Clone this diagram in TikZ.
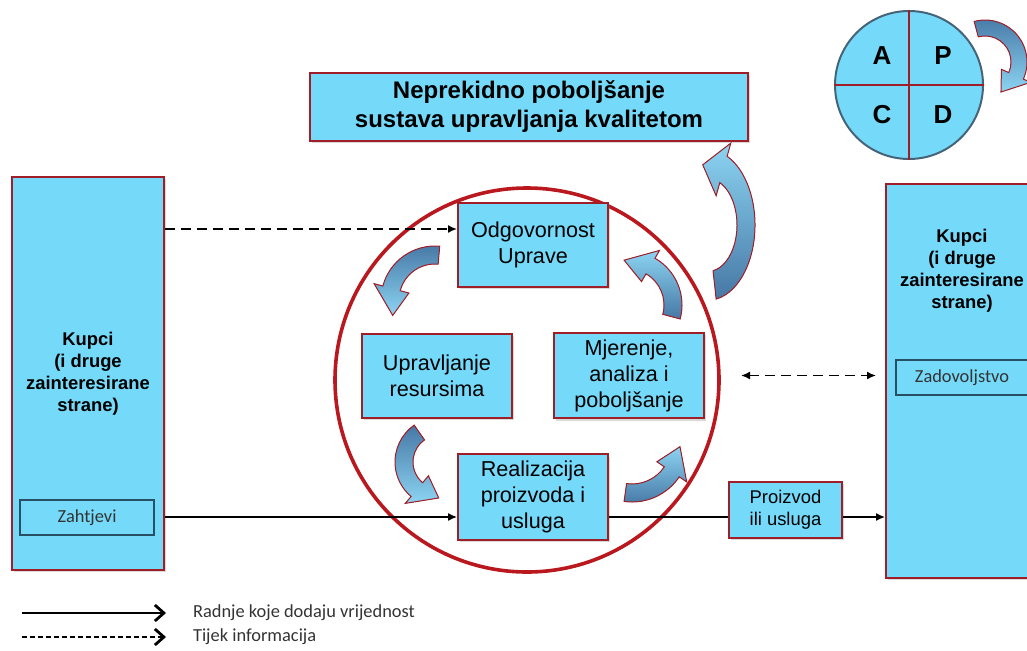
\documentclass[tikz,border=0pt]{standalone}
\usepackage{fontspec}
\setmainfont{Liberation Sans}
\newfontfamily\calibri{Carlito}
\usetikzlibrary{positioning,shadows,arrows.meta}

\definecolor{cijan}{RGB}{117,218,250}
\definecolor{tamnocrvena}{RGB}{160,30,40}
\definecolor{crvena}{RGB}{185,25,30}
\definecolor{tamnoplava}{RGB}{40,80,100}
\definecolor{sivoplava}{RGB}{70,100,120}
\definecolor{tamnavrtlog}{RGB}{70,120,165}
\definecolor{svijetlavrtlog}{RGB}{140,212,242}

% bent block arrow: [options]{centre}{radius}{start}{tip}{head angle}{half width}
\newcommand{\vrtlog}[7][]{%
  \begin{scope}[shift={#2}]
    \filldraw[vrtlog,#1] (#4:#3+#7) arc[start angle=#4, end angle=#5-(#6), radius=#3+#7]
      -- ({#5-(#6)}:#3+2*#7) -- (#5:#3) -- ({#5-(#6)}:#3-2*#7) -- ({#5-(#6)}:#3-#7)
      arc[start angle=#5-(#6), end angle=#4, radius=#3-#7] -- cycle;
  \end{scope}}

\begin{document}
\begin{tikzpicture}[x=0.5pt, y=0.5pt,
    >={Latex[length=4.5pt,width=4pt]},
    blok/.style={draw=tamnocrvena, line width=1pt, fill=cijan, align=center,
        drop shadow={shadow xshift=1.2pt, shadow yshift=-1.2pt, opacity=0.3}},
    okvir/.style={draw=tamnoplava, line width=0.6pt, fill=cijan, text=black!80,
        font=\calibri\fontsize{9.2}{11}\selectfont},
    tok/.style={line width=0.7pt},
    info/.style={line width=0.8pt, dash pattern=on 5pt off 3pt},
    vrtlog/.style={draw=tamnocrvena, line width=0.5pt,
        top color=svijetlavrtlog, bottom color=tamnavrtlog}]

    % style of the process boxes
    \tikzstyle{proces}=[blok, minimum width=75pt, minimum height=42pt,
        font=\fontsize{10.8}{13}\selectfont]
    \tikzstyle{kupac}=[align=center, font=\bfseries\fontsize{9.2}{11}\selectfont]
    \tikzstyle{legenda}=[anchor=west, text=black!80, font=\calibri\fontsize{9.2}{11}\selectfont]
    \tikzstyle{chevron}=[-{Straight Barb[length=4.5pt,width=8pt,line width=1.4pt]}]

    \useasboundingbox (0,0) rectangle (1027,650);
    \clip (0,0) rectangle (1027,650);

    % customers on both sides
    \node [blok, kupac, minimum width=76pt, minimum height=196.5pt] (kupciL) at (88,276.5)
        {Kupci\\(i druge\\zainteresirane\\strane)};
    \node [okvir, minimum width=67pt, minimum height=17.5pt] (zahtjevi) at (87,132.5) {Zahtjevi};

    \node [blok, minimum width=76pt, minimum height=197pt] (kupciR) at (962,269) {};
    \node [kupac] (kupciRtekst) at ([yshift=-44pt]kupciR.north)
        {Kupci\\(i druge\\zainteresirane\\strane)};
    \node [okvir, minimum width=66pt, minimum height=17.5pt] (zadovoljstvo) at (962,272.5) {Zadovoljstvo};

    % the process circle
    \coordinate (sredina) at (527,270);
    \draw [crvena, line width=1.8pt] (sredina) circle [radius=192];

    \node [proces] (odgovornost) at (533,405) {Odgovornost\\Uprave};
    \node [proces] (resursi) at (437,274.5) {Upravljanje\\resursima};
    \node [proces] (mjerenje) at (629,274.5) {Mjerenje,\\analiza i\\poboljšanje};
    \node [proces] (realizacija) at (533,153) {Realizacija\\proizvoda i\\usluga};

    \node [blok, minimum width=56.5pt, minimum height=28pt,
        font=\fontsize{9.2}{11}\selectfont] (proizvod) at (785.5,140) {Proizvod\\ili usluga};

    \node [blok, minimum width=219pt, minimum height=34pt,
        font=\bfseries\fontsize{12}{14.5}\selectfont] (naslov) at (529,543)
        {Neprekidno poboljšanje\\sustava upravljanja kvalitetom};

    % PDCA wheel
    \node [circle, draw=sivoplava, line width=1pt, fill=cijan, minimum size=74pt, inner sep=0pt]
        (pdca) at (909,565) {};
    \draw [tamnocrvena, line width=0.8pt] (pdca.north) -- (pdca.south) (pdca.west) -- (pdca.east);
    \tikzstyle{slovo}=[font=\bfseries\fontsize{13}{15}\selectfont]
    \node [slovo] (slovoA) at ([shift={(-27,29)}]pdca.center) {A};
    \node [slovo] (slovoP) at ([shift={(34,29)}]pdca.center) {P};
    \node [slovo] (slovoC) at ([shift={(-27,-30)}]pdca.center) {C};
    \node [slovo] (slovoD) at ([shift={(34,-30)}]pdca.center) {D};

    % bent arrows
    \vrtlog[top color=tamnavrtlog, bottom color=svijetlavrtlog]{(435,350)}{45}{85}{200}{35}{9}
    \vrtlog{(628,345)}{45}{-15}{95}{35}{9}
    \vrtlog[top color=tamnavrtlog, bottom color=svijetlavrtlog]{(440,188)}{36}{125}{268}{38}{9}
    \vrtlog{(632,205)}{48}{262}{358}{32}{9}
    \vrtlog[yscale=1.6]{(708,425)}{38}{-80}{98}{32}{9}
    \vrtlog[top color=tamnavrtlog, bottom color=svijetlavrtlog]{(985,588)}{34}{105}{-62}{-38}{8}

    % connectors
    \coordinate (ulazInfo) at ([yshift=8pt]odgovornost.west);
    \draw [info, ->] (kupciL.east |- ulazInfo) -- (ulazInfo);
    \coordinate (ulazReal) at ([yshift=-10pt]realizacija.west);
    \draw [tok, ->] (kupciL.east |- ulazReal) -- (ulazReal);
    \coordinate (izlazReal) at ([yshift=-10pt]realizacija.east);
    \draw [tok] (izlazReal) -- (proizvod.west |- izlazReal);
    \draw [tok, ->] (proizvod.east |- izlazReal) -- (kupciR.west |- izlazReal);
    \draw [info, <->, shorten <=18pt, shorten >=4.5pt] (mjerenje.east) -- (kupciR.west |- mjerenje.east);

    % legend
    \coordinate (legTokA) at (22,37);
    \coordinate (legTokB) at (166,37);
    \coordinate (legInfoA) at (22,13);
    \coordinate (legInfoB) at (166,13);
    \draw [tok, chevron] (legTokA) -- (legTokB);
    \draw [line width=0.7pt, dash pattern=on 2.5pt off 1.5pt, chevron] (legInfoA) -- (legInfoB);
    \node [legenda] (opisTok) at (186,37) {Radnje koje dodaju vrijednost};
    \node [legenda] (opisInfo) at (186,13) {Tijek informacija};

\end{tikzpicture}
\end{document}
